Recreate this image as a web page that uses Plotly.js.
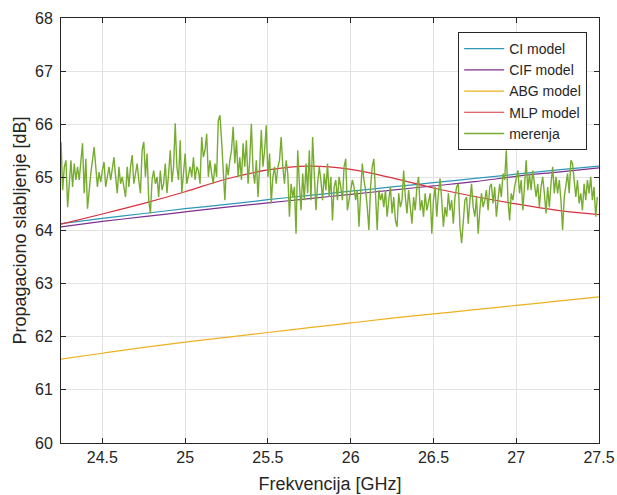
<!DOCTYPE html>
<html>
<head>
<meta charset="utf-8">
<script src="https://cdn.plot.ly/plotly-3.0.1.min.js"></script>
<style>html,body{margin:0;padding:0;background:#fff;}#chart{width:617px;height:495px;}</style>
</head>
<body>
<div id="chart"></div>
<script>
// Model curves, sampled at these frequencies [GHz]
const modelFreq = [24.25, 24.5, 24.75, 25, 25.25, 25.5, 25.75, 26, 26.25, 26.5, 26.75, 27, 27.25, 27.5];
const ciModel  = [64.13, 64.23, 64.32, 64.41, 64.49, 64.58, 64.66, 64.74, 64.82, 64.90, 64.98, 65.06, 65.14, 65.21];
const cifModel = [64.07, 64.17, 64.26, 64.35, 64.44, 64.52, 64.60, 64.68, 64.76, 64.84, 64.92, 65.02, 65.10, 65.18];
const abgModel = [61.58, 61.69, 61.80, 61.90, 61.99, 62.08, 62.17, 62.26, 62.35, 62.43, 62.51, 62.59, 62.67, 62.75];
const mlpModel = [64.12, 64.31, 64.51, 64.73, 64.97, 65.14, 65.21, 65.15, 64.99, 64.80, 64.64, 64.50, 64.38, 64.30];

// Measurements (merenja): start frequency and step [GHz], values [dB]
const measStart = 24.25;
const measStep = 0.01;
const merenja = [
 65.67,64.76,65.20,65.32,64.44,64.88,65.32,64.82,65.26,64.95,
 65.20,64.95,65.35,65.64,64.70,65.35,64.41,64.82,65.07,65.32,
 65.57,65.20,64.82,65.10,64.91,65.13,65.29,64.82,65.01,65.20,
 64.95,65.13,65.38,65.01,64.70,65.20,64.88,65.01,64.82,64.63,
 65.20,64.82,65.20,65.42,64.88,65.07,65.26,64.95,64.70,65.51,
 65.67,65.01,65.45,64.57,64.32,64.95,65.13,64.88,65.01,64.63,
 65.13,64.76,64.88,65.26,64.70,65.07,65.51,64.91,65.20,66.02,
 65.20,64.95,65.70,64.70,65.07,65.45,64.88,65.07,65.20,65.01,
 65.38,
 64.95,65.20,65.13,64.88,65.76,65.38,65.51,65.82,65.01,65.32,
 65.07,64.88,65.26,65.01,66.07,66.17,65.70,65.01,64.57,65.26,
 65.04,65.32,65.51,65.95,65.26,65.70,65.01,65.38,64.95,65.64,
 65.20,65.70,64.88,65.32,66.01,65.13,64.88,65.32,64.63,65.20,
 65.89,65.20,65.51,65.98,65.01,65.45,64.51,65.01,65.20,64.88,
 65.20,65.32,65.76,65.20,64.88,65.32,65.07,64.26,64.88,64.63,
 64.82,63.94,65.51,64.88,64.38,65.07,64.57,65.26,64.70,65.51,
 64.57,65.76,64.88,64.38,64.88,65.20,64.95,64.57,65.07,64.76,
 65.26,
 64.63,65.01,64.19,64.82,64.95,64.57,65.01,64.82,64.57,65.20,
 65.35,64.38,64.57,64.70,64.95,64.82,64.57,64.76,64.07,64.70,
 65.26,64.95,64.76,64.44,64.01,64.82,65.20,65.35,64.57,64.01,
 64.76,64.57,64.70,64.44,64.76,64.26,64.57,64.82,64.32,64.63,
 64.19,64.07,64.70,64.44,64.57,65.13,64.63,64.32,64.76,64.44,
 64.13,64.63,64.38,64.82,65.01,64.38,64.57,64.26,64.70,64.38,
 64.57,64.70,63.94,64.57,64.82,64.26,64.70,64.98,64.57,64.07,
 64.44,64.26,64.70,64.38,64.57,64.13,64.63,64.82,64.88,64.07,
 63.76,
 64.26,64.57,64.63,64.13,64.57,64.88,64.44,64.26,64.63,63.94,
 64.38,64.70,64.44,64.57,64.76,64.38,64.82,64.88,64.51,64.82,
 64.26,64.57,64.88,64.63,65.07,64.95,65.51,64.57,64.19,64.70,
 64.57,64.82,64.95,65.13,64.70,64.95,64.38,64.95,65.32,64.76,
 65.07,64.76,65.13,64.88,64.63,64.88,64.44,64.82,65.01,64.70,
 64.32,64.82,64.44,64.88,65.20,64.70,65.01,64.70,64.95,64.57,
 64.01,64.63,64.82,65.07,64.70,65.32,65.26,64.95,64.63,64.95,
 64.51,64.70,64.38,64.88,64.57,64.95,64.70,65.01,64.57,64.82,
 64.26,64.63
];

const seriesNames = ['CI model', 'CIF model', 'ABG model', 'MLP model', 'merenja'];
const seriesColors = ['#2f97b8', '#7E2F8E', '#EDB120', '#D8303C', '#77AC30'];

const xTicks = [24.5, 25, 25.5, 26, 26.5, 27, 27.5];
const yTicks = [60, 61, 62, 63, 64, 65, 66, 67, 68];

const font = 'Liberation Sans, Arial, Helvetica, sans-serif';
const txt = '#262626';

const models = [ciModel, cifModel, abgModel, mlpModel];
const traces = models.map((m, i) => ({
  type: 'scatter', mode: 'lines', x: modelFreq, y: m, name: seriesNames[i],
  line: {color: seriesColors[i], width: 1.2, shape: 'spline', smoothing: 1}
}));
traces.push({
  type: 'scatter', mode: 'lines', x0: measStart, dx: measStep, y: merenja, name: seriesNames[4],
  line: {color: seriesColors[4], width: 1.4}
});

const axisCommon = {
  showline: true, linecolor: '#262626', linewidth: 1, mirror: 'ticks',
  ticks: 'inside', ticklen: 5, tickcolor: '#262626',
  showgrid: true, gridcolor: '#e3e3e3', gridwidth: 1, zeroline: false,
  tickfont: {family: font, size: 16, color: txt}
};

const layout = {
  width: 617, height: 495,
  margin: {l: 61, r: 18, t: 18, b: 52},
  paper_bgcolor: '#ffffff', plot_bgcolor: '#ffffff',
  font: {family: font, color: txt},
  showlegend: true,
  legend: {
    x: 0.978, xanchor: 'right', y: 0.967, yanchor: 'top',
    bgcolor: '#ffffff', bordercolor: '#262626', borderwidth: 1,
    font: {family: font, size: 14, color: txt}, itemwidth: 40, tracegroupgap: 0
  },
  xaxis: Object.assign({}, axisCommon, {
    range: [24.25, 27.5], tickvals: xTicks, ticktext: xTicks.map(String),
    title: {text: 'Frekvencija [GHz]', font: {family: font, size: 18, color: txt}, standoff: 12}
  }),
  yaxis: Object.assign({}, axisCommon, {
    range: [60, 68], tickvals: yTicks, ticktext: yTicks.map(String), ticklabelstandoff: 4,
    title: {text: 'Propagaciono slabljenje [dB]', font: {family: font, size: 18, color: txt}, standoff: 3}
  })
};

Plotly.newPlot('chart', traces, layout, {displayModeBar: false, staticPlot: true});
</script>
</body>
</html>
